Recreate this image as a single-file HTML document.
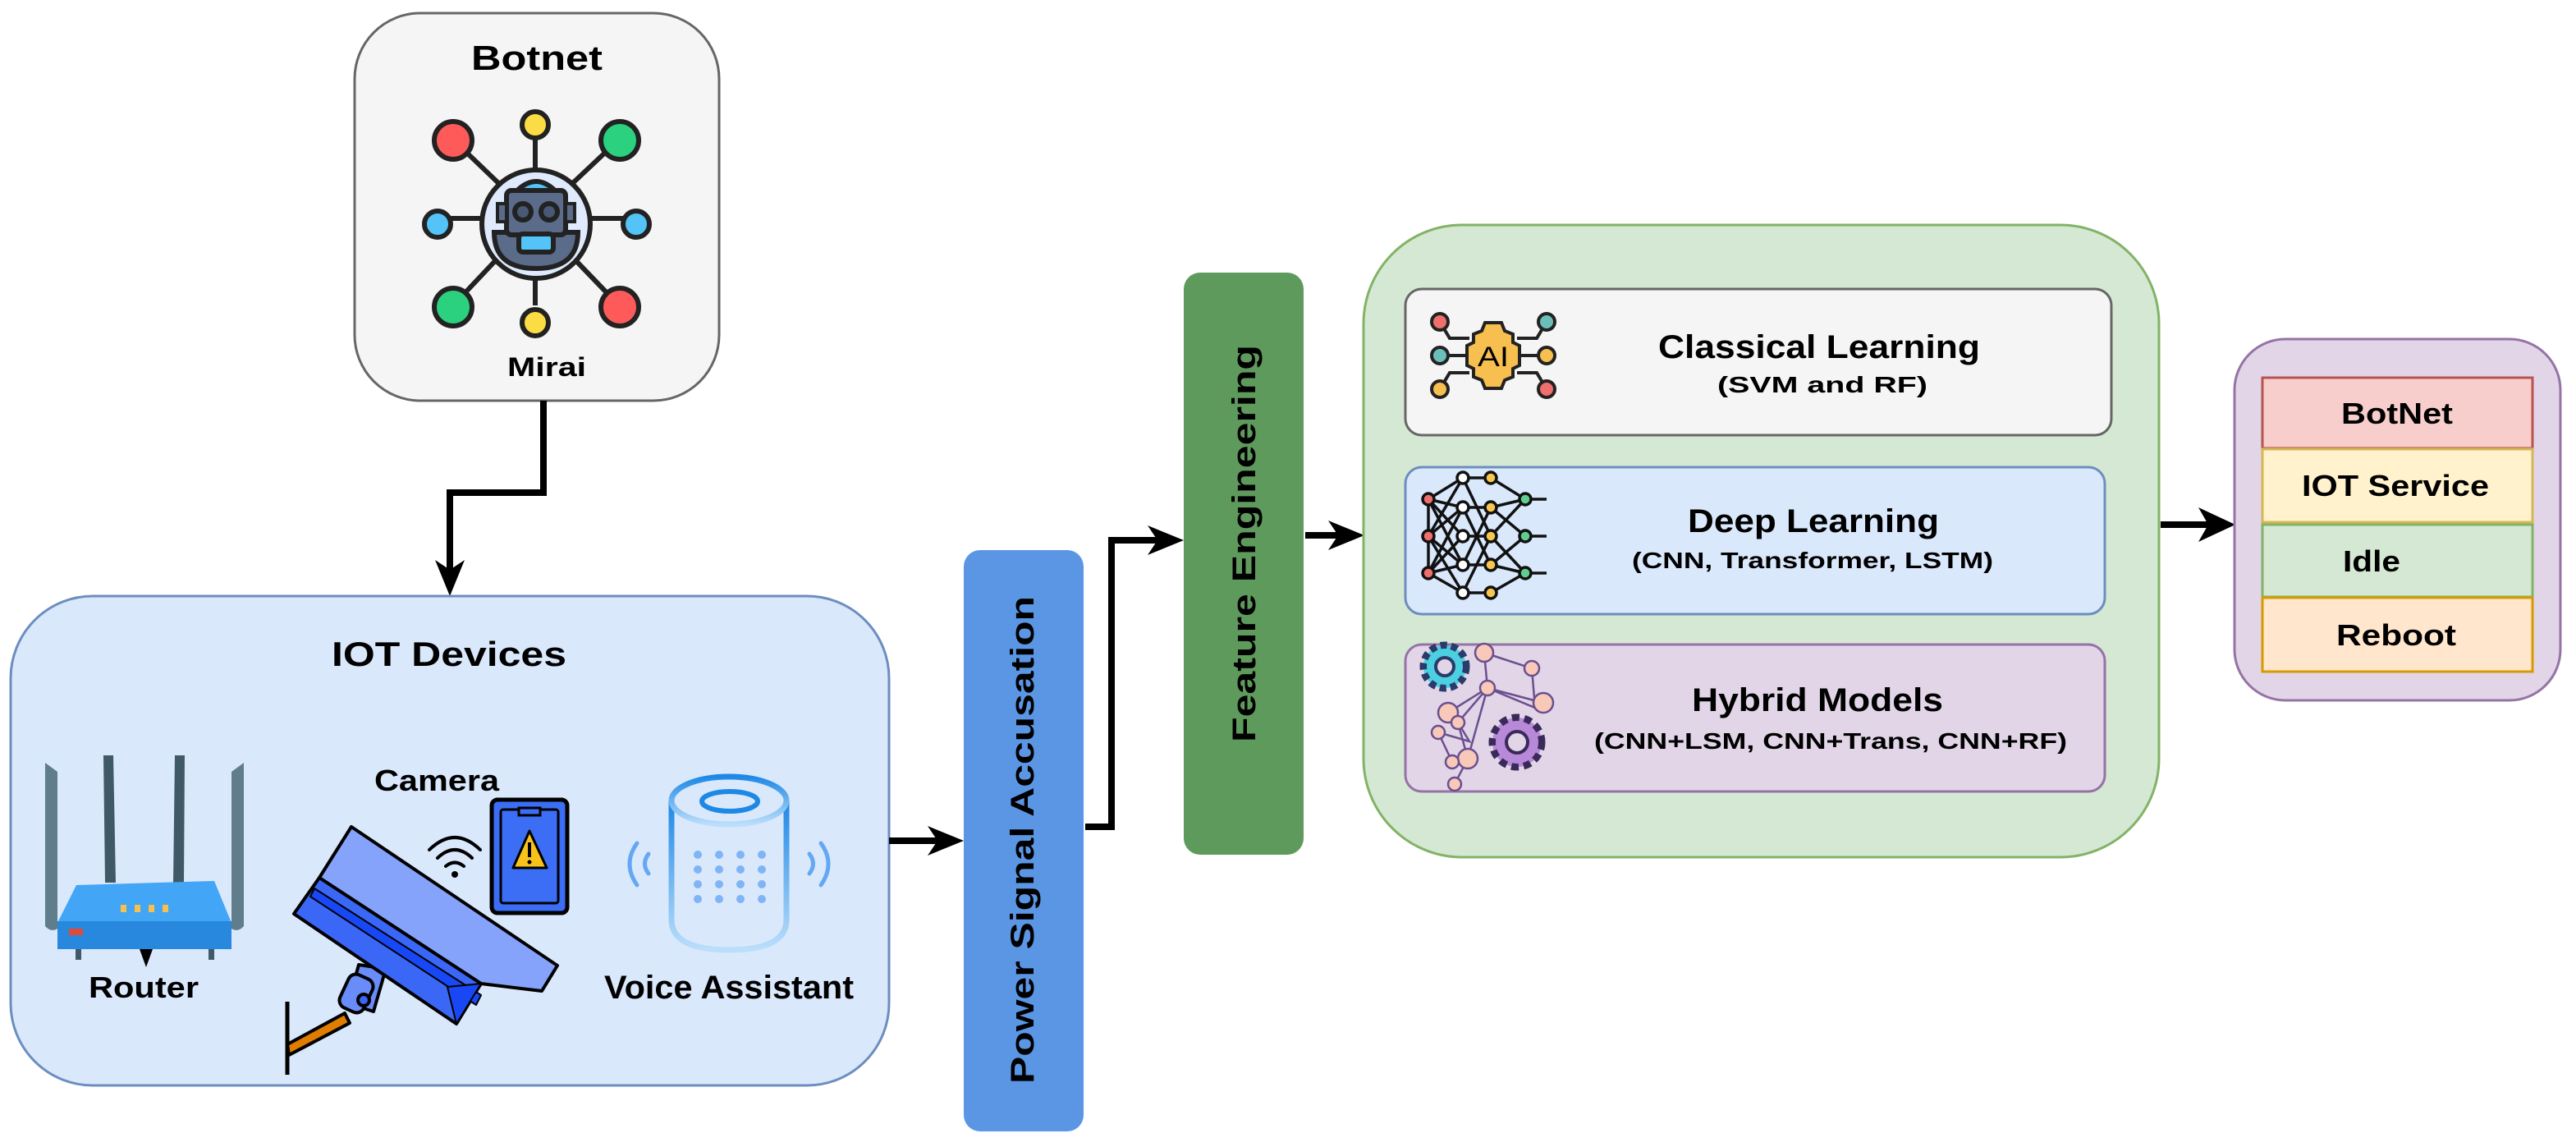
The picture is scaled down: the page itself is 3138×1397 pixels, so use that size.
<!DOCTYPE html>
<html><head><meta charset="utf-8"><style>
html,body{margin:0;padding:0;background:#fff;}
svg{display:block;}
text{font-family:"Liberation Sans",Arial,sans-serif;font-weight:bold;fill:#000;}
</style></head><body>
<svg width="3138" height="1397" viewBox="0 0 3138 1397" xmlns="http://www.w3.org/2000/svg">

<!-- Botnet box -->
<rect x="432" y="16" width="444" height="472" rx="80" fill="#f5f5f5" stroke="#666" stroke-width="3"/>
<text x="654" y="85" font-size="42" text-anchor="middle" textLength="160" lengthAdjust="spacingAndGlyphs">Botnet</text>
<g stroke="#222" stroke-width="6">
 <line x1="652" y1="266" x2="652" y2="160"/>
 <line x1="652" y1="266" x2="652" y2="372"/>
 <line x1="652" y1="266" x2="545" y2="266"/>
 <line x1="652" y1="266" x2="760" y2="266"/>
 <line x1="652" y1="266" x2="552" y2="170"/>
 <line x1="652" y1="266" x2="754" y2="170"/>
 <line x1="652" y1="266" x2="552" y2="372"/>
 <line x1="652" y1="266" x2="754" y2="372"/>
 <circle cx="652" cy="152" r="16" fill="#fcdc44"/>
 <circle cx="652" cy="393" r="16" fill="#fcdc44"/>
 <circle cx="533" cy="273" r="16" fill="#54c3f8"/>
 <circle cx="775" cy="273" r="16" fill="#54c3f8"/>
 <circle cx="552" cy="171" r="23" fill="#fe5a5a"/>
 <circle cx="755" cy="171" r="23" fill="#2bd17e"/>
 <circle cx="552" cy="374" r="23" fill="#2bd17e"/>
 <circle cx="755" cy="374" r="23" fill="#fe5a5a"/>
 <circle cx="653" cy="273" r="66" fill="#dfeafd"/>
 <path d="M602,283 L704,283 Q704,327 653,327 Q602,327 602,283 Z" fill="#5b6b8a"/>
 <path d="M630,232 Q653,210 676,232 Z" fill="#54c3f8"/>
 <rect x="617" y="232" width="72" height="54" rx="6" fill="#5b6b8a"/>
 <rect x="606" y="248" width="11" height="22" fill="#5b6b8a" stroke-width="4"/>
 <rect x="689" y="248" width="11" height="22" fill="#5b6b8a" stroke-width="4"/>
 <rect x="632" y="285" width="42" height="22" rx="5" fill="#54c3f8"/>
 <circle cx="637" cy="258" r="10" fill="#485875"/>
 <circle cx="669" cy="258" r="10" fill="#485875"/>
</g>
<text x="666" y="458" font-size="32" text-anchor="middle" textLength="96" lengthAdjust="spacingAndGlyphs">Mirai</text>

<polyline points="662,488 662,600 548,600 548,700" fill="none" stroke="#000" stroke-width="8"/>
<polygon points="548,726 530,682 548,694 566,682" fill="#000"/>

<!-- IOT Devices box -->
<rect x="13" y="726" width="1070" height="596" rx="100" fill="#dae8fc" stroke="#6c8ebf" stroke-width="3"/>
<text x="547" y="811" font-size="42" text-anchor="middle" textLength="286" lengthAdjust="spacingAndGlyphs">IOT Devices</text>

<!-- Router -->
<g>
 <path d="M55,929 L70,940 L70,1131 Q62,1136 55,1128 Z" fill="#607d8b"/>
 <path d="M282,940 L297,929 L297,1128 Q290,1136 282,1131 Z" fill="#607d8b"/>
 <path d="M126,920 L138,920 L141,1075 L128,1075 Z" fill="#3f5a66"/>
 <path d="M213,920 L225,920 L224,1075 L211,1075 Z" fill="#3f5a66"/>
 <polygon points="93,1078 261,1073 282,1124 70,1124" fill="#42a5f5"/>
 <rect x="70" y="1122" width="212" height="34" fill="#2888dd"/>
 <rect x="84" y="1131" width="17" height="8" fill="#e04a3a"/>
 <rect x="147" y="1102" width="7" height="9" fill="#f6c04a"/>
 <rect x="164" y="1102" width="7" height="9" fill="#f6c04a"/>
 <rect x="181" y="1102" width="7" height="9" fill="#f6c04a"/>
 <rect x="198" y="1102" width="7" height="9" fill="#f6c04a"/>
 <rect x="92" y="1156" width="7" height="13" fill="#3f5a66"/>
 <rect x="254" y="1156" width="7" height="13" fill="#3f5a66"/>
 <polygon points="170,1156 186,1156 178,1178" fill="#000"/>
</g>
<text x="175" y="1215" font-size="36" text-anchor="middle" textLength="134" lengthAdjust="spacingAndGlyphs">Router</text>

<!-- Camera -->
<text x="532" y="963" font-size="36" text-anchor="middle" textLength="152" lengthAdjust="spacingAndGlyphs">Camera</text>
<g stroke="#000" stroke-width="4" stroke-linejoin="round">
 <line x1="350" y1="1220" x2="350" y2="1309" stroke-width="5"/>
 <polygon points="350,1272 420,1234 426,1246 352,1285" fill="#e07c00"/>
 <polygon points="437,1175 470,1180 455,1232 424,1222" fill="#6a8cf8"/>
 <rect x="418" y="1188" width="32" height="44" rx="10" transform="rotate(25 434 1210)" fill="#6a8cf8"/>
 <circle cx="443" cy="1218" r="7" fill="#3b63f7"/>
 <polygon points="428,1007 679,1176 660,1207 586,1198 389,1069" fill="#85a3fb"/>
 <polygon points="389,1069 586,1198 556,1247 358,1113" fill="#3b67f7"/>
 <polygon points="383,1082 586,1212 580,1224 378,1092" fill="#1848f5" stroke-width="2"/>
 <polygon points="586,1198 556,1247 545,1202" fill="#1848f5" stroke-width="2"/>
</g>
<g fill="none" stroke="#000" stroke-width="4" stroke-linecap="round">
 <path d="M523,1035 Q554,1005 585,1035"/>
 <path d="M533,1045 Q554,1025 575,1045"/>
 <path d="M543,1055 Q554,1046 565,1055"/>
</g>
<circle cx="554" cy="1065" r="4" fill="#000"/>
<rect x="599" y="974" width="92" height="138" rx="7" fill="#3b6ef5" stroke="#000" stroke-width="5"/>
<rect x="610" y="986" width="70" height="114" rx="3" fill="#3b6ef5" stroke="#000" stroke-width="3"/>
<rect x="632" y="984" width="26" height="9" fill="#3b6ef5" stroke="#000" stroke-width="3"/>
<polygon points="645,1012 625,1057 666,1057" fill="#f9c21a" stroke="#000" stroke-width="3" stroke-linejoin="round"/>
<line x1="645" y1="1026" x2="645" y2="1044" stroke="#000" stroke-width="4"/>
<circle cx="645" cy="1050" r="2.5" fill="#000"/>

<!-- Voice assistant -->
<defs>
<linearGradient id="vg" x1="0" y1="0" x2="0" y2="1">
 <stop offset="0" stop-color="#1e88e5"/><stop offset="1" stop-color="#bbdefb"/>
</linearGradient>
</defs>
<g fill="none" stroke="url(#vg)" stroke-width="7">
 <path d="M818,975 L818,1120 Q818,1157 888,1157 Q958,1157 958,1120 L958,975"/>
 <ellipse cx="888" cy="975" rx="70" ry="29"/>
</g>
<ellipse cx="889" cy="976" rx="34" ry="12" fill="none" stroke="#1e88e5" stroke-width="6"/>
<g fill="#7fb4f5">
 <circle cx="850" cy="1041" r="5"/><circle cx="876" cy="1041" r="5"/><circle cx="902" cy="1041" r="5"/><circle cx="928" cy="1041" r="5"/>
 <circle cx="850" cy="1059" r="5"/><circle cx="876" cy="1059" r="5"/><circle cx="902" cy="1059" r="5"/><circle cx="928" cy="1059" r="5"/>
 <circle cx="850" cy="1077" r="5"/><circle cx="876" cy="1077" r="5"/><circle cx="902" cy="1077" r="5"/><circle cx="928" cy="1077" r="5"/>
 <circle cx="850" cy="1095" r="5"/><circle cx="876" cy="1095" r="5"/><circle cx="902" cy="1095" r="5"/><circle cx="928" cy="1095" r="5"/>
</g>
<g fill="none" stroke="#64a8f2" stroke-width="5" stroke-linecap="round">
 <path d="M776,1027 Q758,1052 776,1078"/>
 <path d="M790,1040 Q781,1052 790,1064"/>
 <path d="M1000,1027 Q1018,1052 1000,1078"/>
 <path d="M986,1040 Q995,1052 986,1064"/>
</g>
<text x="888" y="1216" font-size="40" text-anchor="middle" textLength="304" lengthAdjust="spacingAndGlyphs">Voice Assistant</text>

<line x1="1083" y1="1024" x2="1150" y2="1024" stroke="#000" stroke-width="8"/>
<polygon points="1174,1024 1130,1006 1142,1024 1130,1042" fill="#000"/>

<rect x="1174" y="670" width="146" height="708" rx="20" fill="#5b96e5"/>
<text transform="translate(1259,1023) rotate(-90)" x="0" y="0" font-size="40" text-anchor="middle" textLength="594" lengthAdjust="spacingAndGlyphs">Power Signal Accusation</text>

<polyline points="1322,1007 1354,1007 1354,658 1420,658" fill="none" stroke="#000" stroke-width="8"/>
<polygon points="1442,658 1398,640 1410,658 1398,676" fill="#000"/>

<rect x="1442" y="332" width="146" height="709" rx="20" fill="#5f9a5d"/>
<text transform="translate(1529,662) rotate(-90)" x="0" y="0" font-size="40" text-anchor="middle" textLength="484" lengthAdjust="spacingAndGlyphs">Feature Engineering</text>

<line x1="1590" y1="652" x2="1638" y2="652" stroke="#000" stroke-width="8"/>
<polygon points="1662,652 1618,634 1630,652 1618,670" fill="#000"/>

<rect x="1661" y="274" width="969" height="770" rx="120" fill="#d5e8d4" stroke="#82b366" stroke-width="3"/>

<!-- Classical -->
<rect x="1712" y="352" width="860" height="178" rx="20" fill="#f5f5f5" stroke="#666" stroke-width="3"/>
<g stroke="#222" stroke-width="4" fill="none">
 <path d="M1754,392 L1766,412 L1790,412"/><path d="M1884,392 L1872,412 L1848,412"/>
 <path d="M1754,474 L1766,454 L1790,454"/><path d="M1884,474 L1872,454 L1848,454"/>
 <line x1="1754" y1="433" x2="1790" y2="433"/><line x1="1848" y1="433" x2="1884" y2="433"/>
</g>
<path d="M1819,393 l10,0 l4,10 l10,4 l0,10 l8,4 l0,24 l-8,4 l0,10 l-10,4 l-4,10 l-10,0 l-10,0 l-4,-10 l-10,-4 l0,-10 l-8,-4 l0,-24 l8,-4 l0,-10 l10,-4 l4,-10 Z" fill="#f6bf4f" stroke="#222" stroke-width="4"/>
<text x="1819" y="446" font-size="34" text-anchor="middle" style="font-weight:normal" textLength="38" lengthAdjust="spacingAndGlyphs">AI</text>
<g stroke="#222" stroke-width="4">
 <circle cx="1754" cy="392" r="10" fill="#ef6f6c"/><circle cx="1884" cy="392" r="10" fill="#6cbfb9"/>
 <circle cx="1754" cy="433" r="10" fill="#6cbfb9"/><circle cx="1884" cy="433" r="10" fill="#f6bf4f"/>
 <circle cx="1754" cy="474" r="10" fill="#f6bf4f"/><circle cx="1884" cy="474" r="10" fill="#ef6f6c"/>
</g>
<text x="2216" y="436" font-size="40" text-anchor="middle" textLength="392" lengthAdjust="spacingAndGlyphs">Classical Learning</text>
<text x="2220" y="478" font-size="28" text-anchor="middle" textLength="256" lengthAdjust="spacingAndGlyphs">(SVM and RF)</text>

<!-- Deep -->
<rect x="1712" y="569" width="852" height="179" rx="20" fill="#dae8fc" stroke="#6c8ebf" stroke-width="3"/>
<g stroke="#111" stroke-width="3.5">
 <line x1="1740" y1="608" x2="1782" y2="582"/><line x1="1740" y1="608" x2="1782" y2="618"/><line x1="1740" y1="608" x2="1782" y2="653"/><line x1="1740" y1="608" x2="1782" y2="688"/>
 <line x1="1740" y1="653" x2="1782" y2="582"/><line x1="1740" y1="653" x2="1782" y2="618"/><line x1="1740" y1="653" x2="1782" y2="688"/><line x1="1740" y1="653" x2="1782" y2="722"/>
 <line x1="1740" y1="698" x2="1782" y2="618"/><line x1="1740" y1="698" x2="1782" y2="653"/><line x1="1740" y1="698" x2="1782" y2="688"/><line x1="1740" y1="698" x2="1782" y2="722"/>
 <line x1="1740" y1="608" x2="1740" y2="698"/>
 <line x1="1782" y1="582" x2="1816" y2="582"/><line x1="1782" y1="582" x2="1816" y2="653"/><line x1="1782" y1="618" x2="1816" y2="688"/><line x1="1782" y1="688" x2="1816" y2="618"/><line x1="1782" y1="722" x2="1816" y2="653"/><line x1="1782" y1="722" x2="1816" y2="722"/>
 <line x1="1782" y1="653" x2="1816" y2="653"/><line x1="1782" y1="618" x2="1816" y2="618"/><line x1="1782" y1="688" x2="1816" y2="688"/>
 <line x1="1816" y1="582" x2="1858" y2="608"/><line x1="1816" y1="618" x2="1858" y2="608"/><line x1="1816" y1="618" x2="1858" y2="653"/><line x1="1816" y1="653" x2="1858" y2="608"/><line x1="1816" y1="653" x2="1858" y2="698"/>
 <line x1="1816" y1="688" x2="1858" y2="653"/><line x1="1816" y1="688" x2="1858" y2="698"/><line x1="1816" y1="722" x2="1858" y2="698"/>
 <line x1="1858" y1="608" x2="1884" y2="608"/><line x1="1858" y1="653" x2="1884" y2="653"/><line x1="1858" y1="698" x2="1884" y2="698"/>
 <circle cx="1740" cy="608" r="7" fill="#ef6f6c"/><circle cx="1740" cy="653" r="7" fill="#ef6f6c"/><circle cx="1740" cy="698" r="7" fill="#ef6f6c"/>
 <circle cx="1782" cy="582" r="7" fill="#fff"/><circle cx="1782" cy="618" r="7" fill="#fff"/><circle cx="1782" cy="653" r="7" fill="#fff"/><circle cx="1782" cy="688" r="7" fill="#fff"/><circle cx="1782" cy="722" r="7" fill="#fff"/>
 <circle cx="1816" cy="582" r="7" fill="#f6c64f"/><circle cx="1816" cy="618" r="7" fill="#f6c64f"/><circle cx="1816" cy="653" r="7" fill="#f6c64f"/><circle cx="1816" cy="688" r="7" fill="#f6c64f"/><circle cx="1816" cy="722" r="7" fill="#f6c64f"/>
 <circle cx="1858" cy="608" r="7" fill="#5fce8e"/><circle cx="1858" cy="653" r="7" fill="#5fce8e"/><circle cx="1858" cy="698" r="7" fill="#5fce8e"/>
</g>
<text x="2209" y="648" font-size="40" text-anchor="middle" textLength="306" lengthAdjust="spacingAndGlyphs">Deep Learning</text>
<text x="2208" y="692" font-size="28" text-anchor="middle" textLength="440" lengthAdjust="spacingAndGlyphs">(CNN, Transformer, LSTM)</text>

<!-- Hybrid -->
<rect x="1712" y="785" width="852" height="179" rx="20" fill="#e1d5e7" stroke="#9673a6" stroke-width="3"/>
<g stroke="#6b4f8f" stroke-width="2.5" fill="none">
 <polyline points="1808,795 1866,814 1870,862 1812,838 1808,795"/>
 <polyline points="1812,838 1764,868 1776,880 1812,838"/>
 <polyline points="1812,838 1880,856"/>
 <polyline points="1776,880 1790,903 1752,892"/>
 <polyline points="1776,880 1788,924 1769,928 1752,892"/>
 <polyline points="1788,924 1772,955"/>
 <polyline points="1812,838 1788,924"/>
</g>
<g stroke="#6b4f8f" stroke-width="2.5" fill="#f8c8b8">
 <circle cx="1808" cy="795" r="11"/><circle cx="1866" cy="814" r="9"/><circle cx="1812" cy="838" r="9"/>
 <circle cx="1880" cy="856" r="12"/><circle cx="1764" cy="868" r="12"/><circle cx="1776" cy="880" r="8"/>
 <circle cx="1752" cy="892" r="8"/><circle cx="1788" cy="924" r="12"/><circle cx="1769" cy="928" r="8"/><circle cx="1772" cy="955" r="8"/>
</g>
<circle cx="1760" cy="812" r="26" fill="#4ccfe0" stroke="#2a3a6a" stroke-width="9" stroke-dasharray="8 5"/>
<circle cx="1760" cy="812" r="22" fill="#4ccfe0"/>
<circle cx="1760" cy="812" r="11" fill="#e1d5e7" stroke="#2a3a6a" stroke-width="4"/>
<circle cx="1848" cy="904" r="30" fill="#b889d9" stroke="#3a2a5a" stroke-width="9" stroke-dasharray="9 6"/>
<circle cx="1848" cy="904" r="26" fill="#b889d9"/>
<circle cx="1848" cy="904" r="13" fill="#e1d5e7" stroke="#3a2a5a" stroke-width="4"/>
<text x="2214" y="866" font-size="40" text-anchor="middle" textLength="306" lengthAdjust="spacingAndGlyphs">Hybrid Models</text>
<text x="2230" y="912" font-size="28" text-anchor="middle" textLength="576" lengthAdjust="spacingAndGlyphs">(CNN+LSM, CNN+Trans, CNN+RF)</text>

<line x1="2632" y1="639" x2="2700" y2="639" stroke="#000" stroke-width="8"/>
<polygon points="2723,639 2678,618 2690,639 2678,660" fill="#000"/>

<rect x="2722" y="413" width="397" height="440" rx="62" fill="#e1d5e7" stroke="#9673a6" stroke-width="3"/>
<rect x="2756" y="460" width="329" height="86" fill="#f8cecc" stroke="#b85450" stroke-width="3"/>
<rect x="2756" y="547" width="329" height="89" fill="#fff2cc" stroke="#d6b656" stroke-width="3"/>
<rect x="2756" y="639" width="329" height="88" fill="#d5e8d4" stroke="#82b366" stroke-width="3"/>
<rect x="2756" y="728" width="329" height="90" fill="#ffe6cc" stroke="#d79b00" stroke-width="3"/>
<text x="2920" y="516" font-size="36" text-anchor="middle" textLength="136" lengthAdjust="spacingAndGlyphs">BotNet</text>
<text x="2918" y="604" font-size="36" text-anchor="middle" textLength="228" lengthAdjust="spacingAndGlyphs">IOT Service</text>
<text x="2889" y="696" font-size="36" text-anchor="middle" textLength="70" lengthAdjust="spacingAndGlyphs">Idle</text>
<text x="2919" y="786" font-size="36" text-anchor="middle" textLength="146" lengthAdjust="spacingAndGlyphs">Reboot</text>
</svg>
</body></html>
